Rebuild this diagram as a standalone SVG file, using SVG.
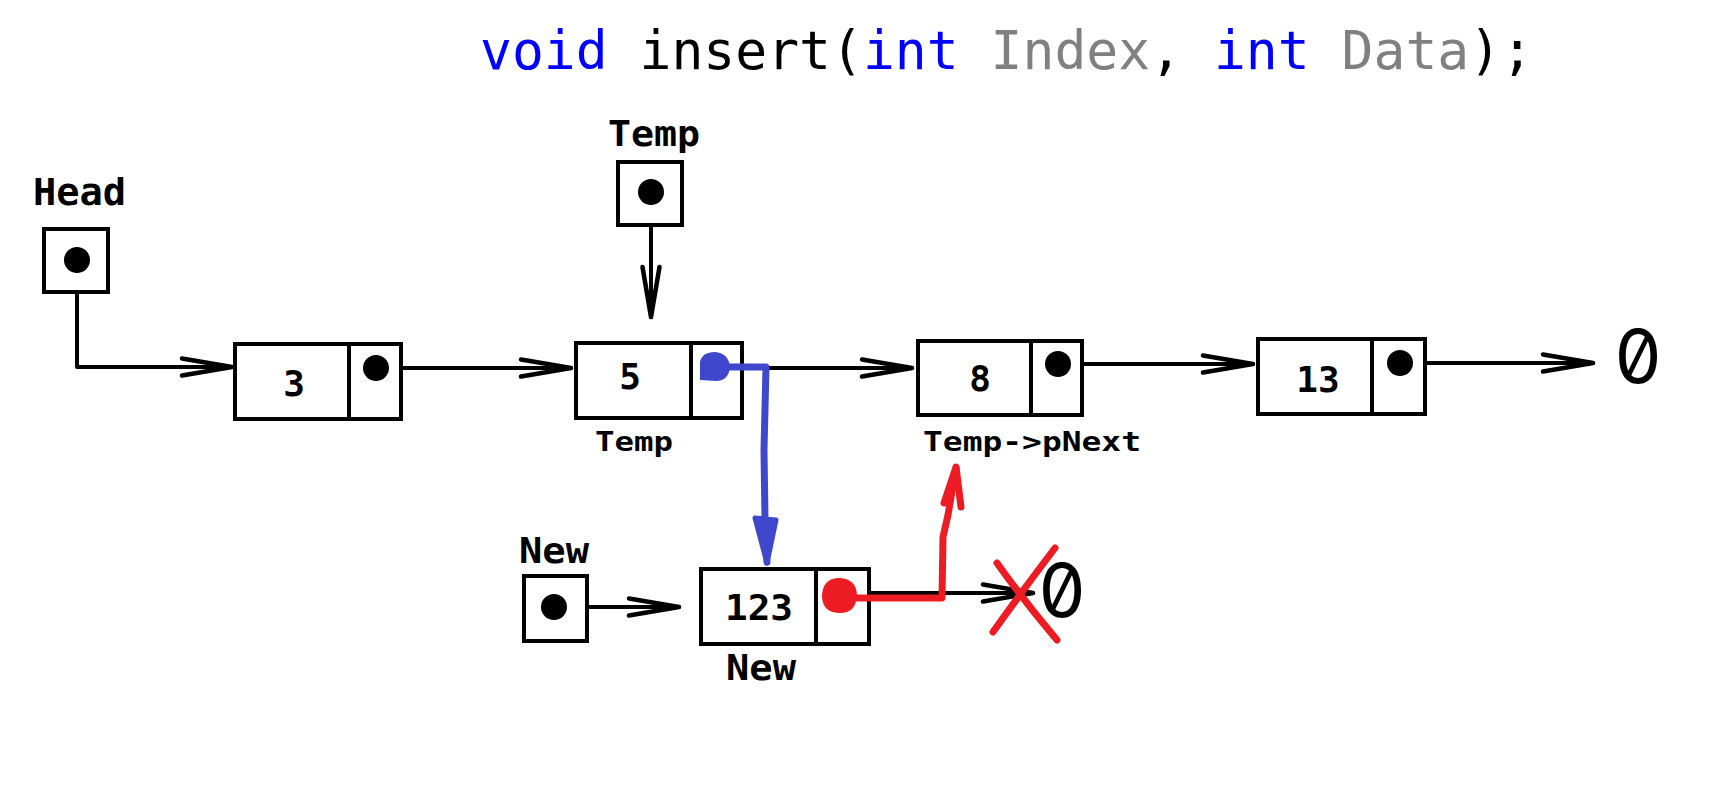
<svg xmlns="http://www.w3.org/2000/svg" width="1717" height="795" viewBox="0 0 1717 795">
<style>
.box{fill:#fff;stroke:#000;stroke-width:4}
.div{stroke:#000;stroke-width:4}
.dot{fill:#000}
.lbl{font-family:"DejaVu Sans Mono","Liberation Mono",monospace;font-weight:bold;fill:#000}
.val{font-family:"DejaVu Sans Mono","Liberation Mono",monospace;font-weight:bold;font-size:36px;fill:#000;text-anchor:middle}
.zero{font-family:Inter,"DejaVu Sans Mono",monospace;font-feature-settings:"zero" 1;font-size:74px;fill:#000;text-anchor:middle}
.code{font-family:"DejaVu Sans Mono","Liberation Mono",monospace;font-size:53px}
.kw{fill:#0000FF}.par{fill:#808080}.pl{fill:#000}
.con{fill:none;stroke:#000;stroke-width:4;stroke-linecap:round;stroke-linejoin:round}
.blue{fill:none;stroke:#3F48CC;stroke-width:7;stroke-linecap:round;stroke-linejoin:round}
.red{fill:none;stroke:#ED1C24;stroke-width:7;stroke-linecap:round;stroke-linejoin:round}
</style>
<defs>
<marker id="arr" viewBox="-58 -12 62 24" refX="0" refY="0" markerWidth="62" markerHeight="24" markerUnits="userSpaceOnUse" orient="auto">
<path d="M-50,-8.5 L0,0 L-50,8.5" fill="none" stroke="#000" stroke-width="4.5" stroke-linecap="round" stroke-linejoin="round"/>
</marker>
</defs>
<rect width="1717" height="795" fill="#fff"/>

<g id="title">
<text class="code" x="480" y="69"><tspan class="kw">void</tspan><tspan class="pl"> insert(</tspan><tspan class="kw">int</tspan><tspan class="par"> Index</tspan><tspan class="pl">, </tspan><tspan class="kw">int</tspan><tspan class="par"> Data</tspan><tspan class="pl">);</tspan></text>
</g>

<g id="connectors">
<path class="con" d="M77,260 V367 H232" marker-end="url(#arr)"/>
<path class="con" d="M376,368 H571" marker-end="url(#arr)"/>
<path class="con" d="M651,192 V317" marker-end="url(#arr)"/>
<path class="con" d="M716,368 H912" marker-end="url(#arr)"/>
<path class="con" d="M1058,364 H1253" marker-end="url(#arr)"/>
<path class="con" d="M1400,363 H1593" marker-end="url(#arr)"/>
<path class="con" d="M554,607 H679" marker-end="url(#arr)"/>
<path class="con" d="M839,593 H1033" marker-end="url(#arr)"/>
</g>

<g id="head">
<text class="lbl" x="33" y="205" font-size="38" textLength="93" lengthAdjust="spacingAndGlyphs">Head</text>
<rect class="box" x="44" y="229" width="64" height="63"/>
<circle class="dot" cx="77" cy="260" r="13"/>
</g>

<g id="temp">
<text class="lbl" x="608" y="146" font-size="36" textLength="92" lengthAdjust="spacingAndGlyphs">Temp</text>
<rect class="box" x="618" y="162" width="64" height="63"/>
<circle class="dot" cx="651" cy="192" r="13"/>
</g>

<g id="node3">
<rect class="box" x="235" y="344" width="166" height="75"/>
<line class="div" x1="349" y1="344" x2="349" y2="419"/>
<text class="val" x="294" y="396">3</text>
<circle class="dot" cx="376" cy="368" r="13"/>
</g>

<g id="node5">
<rect class="box" x="576" y="343" width="166" height="75"/>
<line class="div" x1="691" y1="343" x2="691" y2="418"/>
<text class="val" x="630" y="389">5</text>
<circle class="dot" cx="717" cy="368" r="12"/>
<text class="lbl" x="595" y="451" font-size="27" textLength="78" lengthAdjust="spacingAndGlyphs">Temp</text>
</g>

<g id="node8">
<rect class="box" x="918" y="341" width="164" height="74"/>
<line class="div" x1="1031" y1="341" x2="1031" y2="415"/>
<text class="val" x="980" y="391">8</text>
<circle class="dot" cx="1058" cy="364" r="13"/>
<text class="lbl" x="923" y="451" font-size="27" textLength="218" lengthAdjust="spacingAndGlyphs">Temp-&gt;pNext</text>
</g>

<g id="node13">
<rect class="box" x="1258" y="339" width="167" height="75"/>
<line class="div" x1="1372" y1="339" x2="1372" y2="414"/>
<text class="val" x="1318" y="392">13</text>
<circle class="dot" cx="1400" cy="363" r="13"/>
</g>

<g id="null1">
<text class="zero" x="1638" y="383">0</text>
</g>

<g id="newptr">
<text class="lbl" x="519" y="563" font-size="35" textLength="70" lengthAdjust="spacingAndGlyphs">New</text>
<rect class="box" x="524" y="576" width="63" height="65"/>
<circle class="dot" cx="554" cy="607" r="13"/>
</g>

<g id="node123">
<rect class="box" x="701" y="569" width="168" height="75"/>
<line class="div" x1="816" y1="569" x2="816" y2="644"/>
<text class="val" x="759" y="620" textLength="68" lengthAdjust="spacingAndGlyphs">123</text>
<text class="lbl" x="726" y="680" font-size="35" textLength="70" lengthAdjust="spacingAndGlyphs">New</text>
</g>

<g id="null2">
<text class="zero" x="1062" y="617">0</text>
</g>

<g id="blue-link">
<path class="blue" d="M713,367 H766 L764,450 L765,520 L767,562"/>
<path d="M755,518 L767,563 L776,520 Z" fill="#3F48CC" stroke="#3F48CC" stroke-width="5" stroke-linejoin="round"/>
<path d="M700,380 L700,362 Q702,352 715,352 Q728,353 730,366 Q729,381 716,381 Z" fill="#3F48CC"/>
</g>

<g id="red-link">
<path class="red" d="M840,598 H942 L943,537 L948,515 L956,468"/>
<path class="red" d="M944,503 L956,467 L961,507"/>
<path d="M822,597 Q822,579 838,578 Q856,578 857,595 Q856,613 840,613 Q823,613 822,597 Z" fill="#ED1C24"/>
<path class="red" d="M997,563 Q1024,601 1057,640 M1055,548 Q1023,590 993,632"/>
</g>
</svg>
